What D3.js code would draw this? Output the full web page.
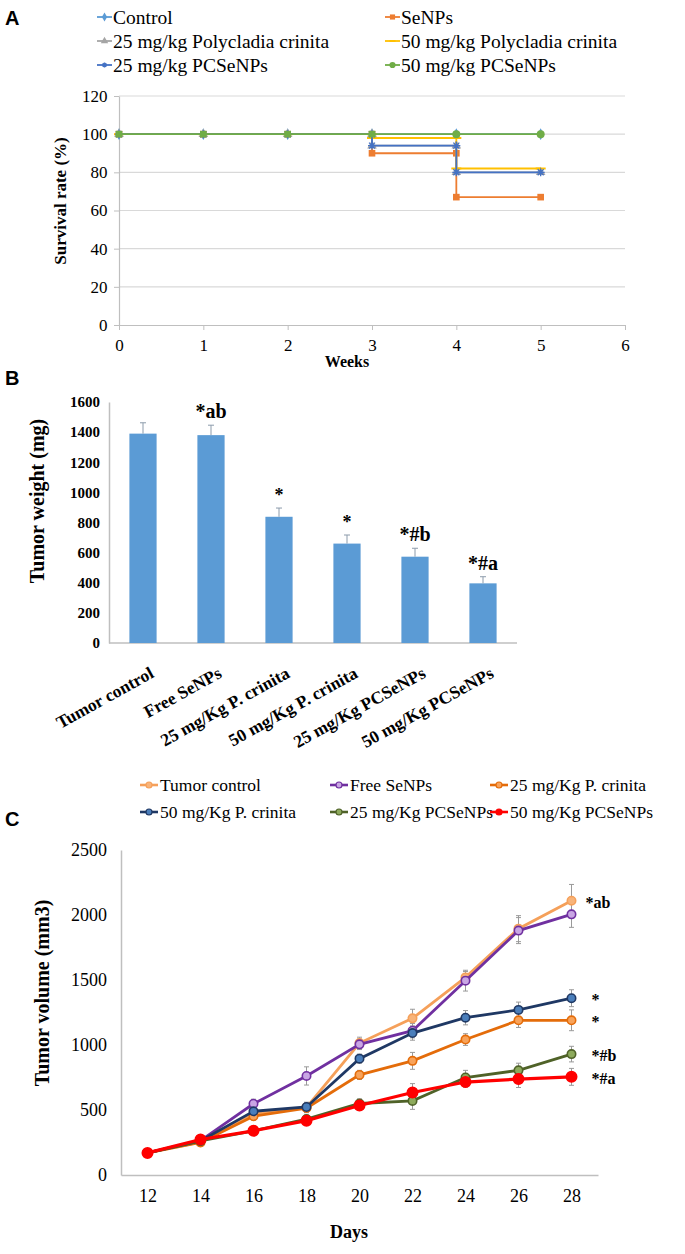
<!DOCTYPE html>
<html><head><meta charset="utf-8">
<script src="https://cdn.jsdelivr.net/npm/d3@7"></script>
<style>
body{margin:0;background:#fff}
svg{display:block}
text{font-family:"Liberation Serif","Times New Roman",serif;fill:#000}
.lab{font-family:"Liberation Sans",Arial,sans-serif !important;font-weight:bold}
</style>
</head><body>
<svg id="c" width="685" height="1254"></svg>
<script>
// ---------- Panel A: survival ----------
const aNames = ["Control","SeNPs","25 mg/kg Polycladia crinita","50 mg/kg Polycladia crinita","25 mg/kg PCSeNPs","50 mg/kg PCSeNPs"];
const aControlWeeks = [0,1,2,3,4,5];
const aControlRate  = [100,100,100,100,100,100];
const aSeNPsWeeks = [0,1,2,3,3,4,4,5];
const aSeNPsRate  = [100,100,100,100,90,90,67,67];
const aPc25Weeks = [0,1,2,3,3,4,4,5];
const aPc25Rate  = [100,100,100,100,94,94,80,80];
const aPc50Weeks = [0,1,2,3,3,4,4,5];
const aPc50Rate  = [100,100,100,100,98,98,82,82];
const aPCSe25Weeks = [0,1,2,3,3,4,4,5];
const aPCSe25Rate  = [100,100,100,100,94,94,80,80];
const aPCSe50Weeks = [0,1,2,3,4,5];
const aPCSe50Rate  = [100,100,100,100,100,100];
const aWeekTicks = [0,1,2,3,4,5,6];
const aRateTicks = [0,20,40,60,80,100,120];

// ---------- Panel B: tumor weight ----------
const bGroups = ["Tumor control","Free SeNPs","25 mg/Kg P. crinita","50 mg/Kg P. crinita","25 mg/Kg PCSeNPs","50 mg/Kg PCSeNPs"];
const bWeight = [1390,1380,838,660,573,396];
const bError  = [72,66,58,57,56,44];
const bSig    = ["","*ab","*","*","*#b","*#a"];
const bTicks  = [0,200,400,600,800,1000,1200,1400,1600];

// ---------- Panel C: tumor volume ----------
const cNames = ["Tumor control","Free SeNPs","25 mg/Kg P. crinita","50 mg/Kg P. crinita","25 mg/Kg PCSeNPs","50 mg/Kg PCSeNPs"];
const cDays = [12,14,16,18,20,22,24,26,28];
const cTumorControl = [170,255,470,520,1015,1205,1520,1895,2110];
const cFreeSeNPs    = [170,265,548,762,1005,1110,1495,1880,2005];
const cPc25         = [170,250,452,515,770,878,1042,1190,1190];
const cPc50         = [170,262,490,523,895,1092,1210,1270,1360];
const cPCSe25       = [170,262,340,430,550,570,750,805,930];
const cPCSe50       = [170,273,340,418,535,635,715,738,755];
const cTumorControlErr = [15,20,30,40,45,70,45,100,125];
const cFreeSeNPsErr    = [15,20,35,70,40,55,80,100,100];
const cPc25Err         = [15,20,30,35,35,65,45,55,80];
const cPc50Err         = [15,20,30,30,35,55,55,60,65];
const cPCSe25Err       = [15,20,25,30,35,65,55,55,60];
const cPCSe50Err       = [15,20,35,30,30,68,40,65,65];
const cSig = ["*ab","","*","*","*#b","*#a"];
const cTicks = [0,500,1000,1500,2000,2500];

const SERIF = '"Liberation Serif","Times New Roman",serif';
const svg = d3.select("#c");
const AX = "#bfbfbf";
function serif(sel){ return sel.style("font-family",SERIF).attr("fill","#000"); }

// ================= PANEL A =================
{
  const g = svg.append("g");
  g.append("text").attr("class","lab").attr("x",5).attr("y",25).attr("font-size",20).text("A");
  const x = d3.scaleLinear().domain([0,6]).range([119,625]);
  const y = d3.scaleLinear().domain([0,120]).range([325,96]);
  g.selectAll(".grid").data(aRateTicks.filter(d=>d>0)).join("line")
    .attr("x1",x(0)).attr("x2",x(6)).attr("y1",d=>y(d)).attr("y2",d=>y(d))
    .attr("stroke","#d9d9d9").attr("stroke-width",1.2);
  const xa = g.append("g").attr("transform",`translate(0,${y(0)})`)
    .call(d3.axisBottom(x).tickValues(aWeekTicks).tickSize(5).tickSizeOuter(0).tickFormat(d3.format("d")));
  const ya = g.append("g").attr("transform",`translate(${x(0)},0)`)
    .call(d3.axisLeft(y).tickValues(aRateTicks).tickSize(5).tickSizeOuter(0).tickFormat(d3.format("d")));
  [xa,ya].forEach(a=>{a.select(".domain").attr("stroke",AX).attr("stroke-width",1.2);
    a.selectAll(".tick line").attr("stroke",AX);
    serif(a.selectAll("text")).style("font-size","17px");});
  xa.selectAll("text").attr("dy","1.05em");
  ya.selectAll("text").attr("dx","-0.2em");
  g.append("text").attr("x",347).attr("y",367).attr("text-anchor","middle").attr("font-weight","bold").attr("font-size",16).text("Weeks");
  g.append("text").attr("transform","translate(66,201) rotate(-90)").attr("text-anchor","middle").attr("font-weight","bold").attr("font-size",17).text("Survival rate (%)");

  const series = [
    {w:aControlWeeks,r:aControlRate,c:"#5B9BD5",m:"diamond"},
    {w:aSeNPsWeeks,r:aSeNPsRate,c:"#ED7D31",m:"square"},
    {w:aPc25Weeks,r:aPc25Rate,c:"#A5A5A5",m:"triangle"},
    {w:aPc50Weeks,r:aPc50Rate,c:"#FFC000",m:"dash"},
    {w:aPCSe25Weeks,r:aPCSe25Rate,c:"#4472C4",m:"star"},
    {w:aPCSe50Weeks,r:aPCSe50Rate,c:"#70AD47",m:"circle"}
  ];
  const line = d3.line().x(d=>x(d[0])).y(d=>y(d[1]));
  function marker(sel, type, c, px, py, s){
    const size = s||1;
    if(type==="dash"){ sel.append("line").attr("x1",px-5*size).attr("x2",px+5*size).attr("y1",py).attr("y2",py).attr("stroke",c).attr("stroke-width",2); return; }
    if(type==="star"){
      const k=size;
      sel.append("path").attr("d",`M${px-4*k},${py}H${px+4*k}M${px},${py-4*k}V${py+4*k}M${px-3*k},${py-3*k}L${px+3*k},${py+3*k}M${px-3*k},${py+3*k}L${px+3*k},${py-3*k}`).attr("stroke",c).attr("stroke-width",1.3); return; }
    const t = {diamond:d3.symbolDiamond,square:d3.symbolSquare,triangle:d3.symbolTriangle,circle:d3.symbolCircle}[type];
    const area = {diamond:40,square:44,triangle:40,circle:50}[type]*size;
    sel.append("path").attr("d",d3.symbol(t,area)()).attr("transform",`translate(${px},${py})`).attr("fill",c);
  }
  series.forEach((s,i)=>{
    const pts = s.w.map((w,j)=>[w,s.r[j]]);
    g.append("path").attr("d",line(pts)).attr("fill","none").attr("stroke",s.c).attr("stroke-width",1.8);
    pts.forEach(p=>{
      let type = s.m;
      if(i===5 && p[0]<=3) type="square";
      marker(g,type,s.c,x(p[0]),y(p[1]));
    });
  });
  const lx = [97,385], ly = [17,41,65];
  aNames.forEach((n,i)=>{
    const cx = lx[i%2], cy = ly[Math.floor(i/2)], s = series[i];
    g.append("line").attr("x1",cx).attr("x2",cx+15).attr("y1",cy).attr("y2",cy).attr("stroke",s.c).attr("stroke-width",1.8);
    marker(g,s.m,s.c,cx+7.5,cy,0.6);
    g.append("text").attr("x",cx+16).attr("y",cy).attr("dy","0.35em").attr("font-size",19.5).text(n);
  });
}

// ================= PANEL B =================
{
  const g = svg.append("g");
  g.append("text").attr("class","lab").attr("x",5).attr("y",385).attr("font-size",20).text("B");
  const x = d3.scaleBand().domain(bGroups).range([109,517]).paddingInner(0.6).paddingOuter(0.3);
  const y = d3.scaleLinear().domain([0,1600]).range([643,402]);
  const ya = g.append("g").attr("transform",`translate(109,0)`)
    .call(d3.axisLeft(y).tickValues(bTicks).tickSize(0).tickPadding(9).tickFormat(d3.format("d")));
  ya.select(".domain").attr("stroke",AX).attr("stroke-width",1.5);
  serif(ya.selectAll("text")).style("font-size","15px").style("font-weight","bold");
  g.append("line").attr("x1",109).attr("x2",517).attr("y1",y(0)).attr("y2",y(0)).attr("stroke",AX).attr("stroke-width",1.5);
  g.selectAll(".bar").data(bGroups).join("rect")
    .attr("x",d=>x(d)).attr("width",x.bandwidth())
    .attr("y",(d,i)=>y(bWeight[i])).attr("height",(d,i)=>y(0)-y(bWeight[i]))
    .attr("fill","#5B9BD5");
  bGroups.forEach((d,i)=>{
    const cx = x(d)+x.bandwidth()/2, top = y(bWeight[i]+bError[i]);
    g.append("line").attr("x1",cx).attr("x2",cx).attr("y1",y(bWeight[i])).attr("y2",top).attr("stroke","#8c9bab").attr("stroke-width",1);
    g.append("line").attr("x1",cx-3).attr("x2",cx+3).attr("y1",top).attr("y2",top).attr("stroke","#8c9bab").attr("stroke-width",1);
    if(bSig[i]) g.append("text").attr("x",cx).attr("y",top-7).attr("text-anchor","middle")
      .attr("font-weight","bold").attr("font-size",bSig[i]==="*"?18:20).text(bSig[i]);
    g.append("text").attr("transform",`translate(${cx+6},${666}) rotate(-29)`).attr("text-anchor","end")
      .attr("dy","0.7em").attr("font-weight","bold").attr("font-size",17.5).text(d);
  });
  g.append("text").attr("transform","translate(44,501) rotate(-90)").attr("text-anchor","middle")
    .attr("font-weight","bold").attr("font-size",20).text("Tumor weight (mg)");
}

// ================= PANEL C =================
{
  const g = svg.append("g");
  g.append("text").attr("class","lab").attr("x",5).attr("y",826).attr("font-size",20).text("C");
  const x = d3.scalePoint().domain(cDays).range([121,598]).padding(0.5);
  const y = d3.scaleLinear().domain([0,2500]).range([1175,850]);
  const ya = g.append("g").attr("transform",`translate(121,0)`)
    .call(d3.axisLeft(y).tickValues(cTicks).tickSize(0).tickPadding(14).tickFormat(d3.format("d")));
  ya.select(".domain").attr("stroke",AX).attr("stroke-width",1.5);
  serif(ya.selectAll("text")).style("font-size","18px");
  const xa = g.append("g").attr("transform",`translate(0,1175)`)
    .call(d3.axisBottom(x).tickSize(0).tickPadding(14));
  xa.select(".domain").attr("stroke",AX).attr("stroke-width",1.5);
  serif(xa.selectAll("text")).style("font-size","18px");
  g.append("text").attr("x",349).attr("y",1238).attr("text-anchor","middle").attr("font-weight","bold").attr("font-size",18).text("Days");
  g.append("text").attr("transform","translate(49,993) rotate(-90)").attr("text-anchor","middle")
    .attr("font-weight","bold").attr("font-size",20).text("Tumor volume (mm3)");

  const series = [
    {v:cTumorControl,e:cTumorControlErr,c:"#F5A05A",f:"#F8B47A",r:4.2},
    {v:cFreeSeNPs,e:cFreeSeNPsErr,c:"#7030A0",f:"#C9A6E4",r:4.2},
    {v:cPc25,e:cPc25Err,c:"#E46C0A",f:"#F8A35A",r:4.2},
    {v:cPc50,e:cPc50Err,c:"#1F3864",f:"#4A7EBB",r:4.2},
    {v:cPCSe25,e:cPCSe25Err,c:"#4F6228",f:"#8DAA5C",r:4.2},
    {v:cPCSe50,e:cPCSe50Err,c:"#FF0000",f:"#FF0000",r:5.2}
  ];
  series.forEach(s=>{
    cDays.forEach((d,j)=>{
      const cx = x(d), t = y(s.v[j]+s.e[j]), b = y(s.v[j]-s.e[j]);
      g.append("line").attr("x1",cx).attr("x2",cx).attr("y1",t).attr("y2",b).attr("stroke","#9a9a9a").attr("stroke-width",1);
      [t,b].forEach(yy=>g.append("line").attr("x1",cx-2.5).attr("x2",cx+2.5).attr("y1",yy).attr("y2",yy).attr("stroke","#9a9a9a").attr("stroke-width",1));
    });
  });
  const line = d3.line().x((d,j)=>x(cDays[j])).y(d=>y(d));
  series.forEach(s=>{
    g.append("path").attr("d",line(s.v)).attr("fill","none").attr("stroke",s.c).attr("stroke-width",s.r>5?3.2:2.8);
    g.selectAll(null).data(s.v).join("circle").attr("cx",(d,j)=>x(cDays[j])).attr("cy",d=>y(d))
      .attr("r",s.r).attr("fill",s.f).attr("stroke",s.c).attr("stroke-width",1.6);
  });
  series.forEach((s,i)=>{
    if(!cSig[i]) return;
    const last = s.v[s.v.length-1];
    g.append("text").attr("x",x(28)+(cSig[i]==="*ab"?14:20)).attr("y",y(last)+7)
      .attr("font-weight","bold").attr("font-size",16).text(cSig[i]);
  });
  const lx = [140,330,490], ly = [785,812];
  cNames.forEach((n,i)=>{
    const cx = lx[i%3], cy = ly[Math.floor(i/3)], s = series[i];
    g.append("line").attr("x1",cx).attr("x2",cx+18).attr("y1",cy).attr("y2",cy).attr("stroke",s.c).attr("stroke-width",2.6);
    g.append("circle").attr("cx",cx+9).attr("cy",cy).attr("r",3).attr("fill",s.f).attr("stroke",s.c).attr("stroke-width",1.2);
    g.append("text").attr("x",cx+20).attr("y",cy).attr("dy","0.35em").attr("font-size",17.5).text(n);
  });
}
</script>
</body></html>
